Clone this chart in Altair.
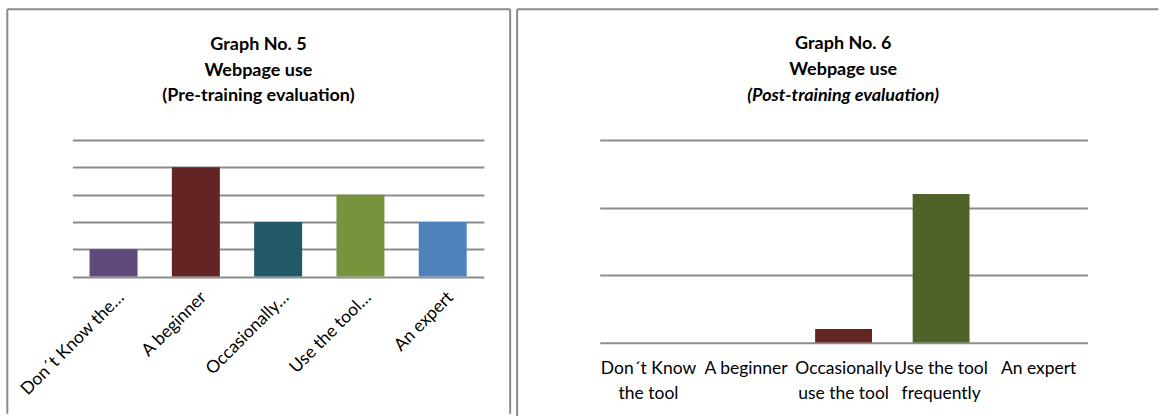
import altair as alt
import pandas as pd

# ---------------- data ----------------
categories = ["Don´t Know the tool", "A beginner", "Occasionally use the tool",
              "Use the tool frequently", "An expert"]
pre_labels = ["Don´t Know the…", "A beginner", "Occasionally…", "Use the tool…", "An expert"]
post_labels = ["Don´t Know\nthe tool", "A beginner", "Occasionally\nuse the tool",
               "Use the tool\nfrequently", "An expert"]
pre_values = [1, 4, 2, 3, 2]
post_values = [0, 0, 1, 11, 0]
pre_colors = ["#604A7B", "#632523", "#215968", "#77933C", "#4F81BD"]
post_colors = ["#604A7B", "#4F81BD", "#632523", "#4F6228", "#4BACC6"]
pre_title = ["Graph No. 5", "Webpage use", "(Pre-training evaluation)"]
post_title = ["Graph No. 6", "Webpage use", "(Post-training evaluation)"]
pre_ticks = [0, 1, 2, 3, 4, 5]
post_ticks = [0, 5, 10, 15]

FONT = "Lato"
GRID = "#8c8c8c"
FRAME = "#8a8a8a"
TITLE_SIZE = 18
LABEL_SIZE = 17.5

df_pre = pd.DataFrame({"category": categories, "label": pre_labels, "value": pre_values})
df_post = pd.DataFrame({"category": categories, "label": post_labels, "value": post_values})
one = pd.DataFrame({"k": [0]})


def vrule(x, y1, y2, color=FRAME):
    return alt.Chart(one).mark_rule(color=color, strokeWidth=2).encode(
        x=alt.value(x), y=alt.value(y1), y2=alt.value(y2))


def hrule(x1, x2, y, color=FRAME):
    return alt.Chart(one).mark_rule(color=color, strokeWidth=2).encode(
        x=alt.value(x1), x2=alt.value(x2), y=alt.value(y))


def title_text(txt, x, y, italic=False):
    return alt.Chart(one).mark_text(
        font=FONT, fontSize=TITLE_SIZE, fontWeight="bold",
        fontStyle="italic" if italic else "normal",
        align="center", baseline="alphabetic", color="#000000"
    ).encode(x=alt.value(x), y=alt.value(y), text=alt.value(txt))


# ---------------- left panel ----------------
W1, H1 = 412, 136.6
bars_pre = alt.Chart(df_pre).mark_bar().encode(
    x=alt.X("label:N", sort=pre_labels,
            scale=alt.Scale(paddingInner=0.417, paddingOuter=0.2085),
            axis=alt.Axis(title=None, domain=False, ticks=False, grid=False,
                          labelAngle=-45, labelAlign="right", labelBaseline="middle",
                          labelPadding=18, labelOffset=8, labelFont=FONT,
                          labelFontSize=LABEL_SIZE, labelColor="#000000", labelLimit=400)),
    y=alt.Y("value:Q", scale=alt.Scale(domain=[0, 5], nice=False),
            axis=alt.Axis(title=None, labels=False, ticks=False, domain=False,
                          grid=True, values=pre_ticks, gridColor=GRID, gridWidth=2)),
    color=alt.Color("label:N", scale=alt.Scale(domain=pre_labels, range=pre_colors),
                    legend=None),
)

left = alt.layer(
    bars_pre,
    vrule(-65.2, -131, 274),
    vrule(438.3, -131, 274),
    hrule(-65.2, 438.3, -131),
    hrule(0, 10, -135, color="#ffffff"),
    title_text(pre_title[0], 186.3, -90.5),
    title_text(pre_title[1], 186.3, -64.5),
    title_text(pre_title[2], 186.3, -39),
).properties(width=W1, height=H1)

# ---------------- right panel ----------------
W2, H2 = 488.3, 202.7
bars_post = alt.Chart(df_post).mark_bar().encode(
    x=alt.X("label:N", sort=post_labels,
            scale=alt.Scale(paddingInner=0.417, paddingOuter=0.2085),
            axis=alt.Axis(title=None, domain=False, ticks=False, grid=False,
                          labelAngle=0, labelAlign="center", labelBaseline="top",
                          labelPadding=17, labelFont=FONT, labelFontSize=LABEL_SIZE,
                          labelColor="#000000", labelLineHeight=25, labelLimit=400,
                          labelExpr="split(datum.label, '\\n')")),
    y=alt.Y("value:Q", scale=alt.Scale(domain=[0, 15], nice=False),
            axis=alt.Axis(title=None, labels=False, ticks=False, domain=False,
                          grid=True, values=post_ticks, gridColor=GRID, gridWidth=2)),
    color=alt.Color("label:N", scale=alt.Scale(domain=post_labels, range=post_colors),
                    legend=None),
)

right = alt.layer(
    bars_post,
    vrule(-82.7, -131, 278),
    hrule(-82.7, 559.3, -131),
    title_text(post_title[0], 243.8, -91),
    title_text(post_title[1], 243.8, -65.3),
    title_text(post_title[2], 243.8, -39.3, italic=True),
).properties(width=W2, height=H2)

chart = alt.hconcat(left, right, spacing=4).resolve_scale(
    color="independent", x="independent", y="independent"
).properties(
    padding={"left": 5.5, "top": 4, "right": 0, "bottom": 0},
    background="#ffffff",
).configure(font=FONT).configure_view(stroke=None)

chart.save("out.html", embed_options={"renderer": "svg", "actions": False})
